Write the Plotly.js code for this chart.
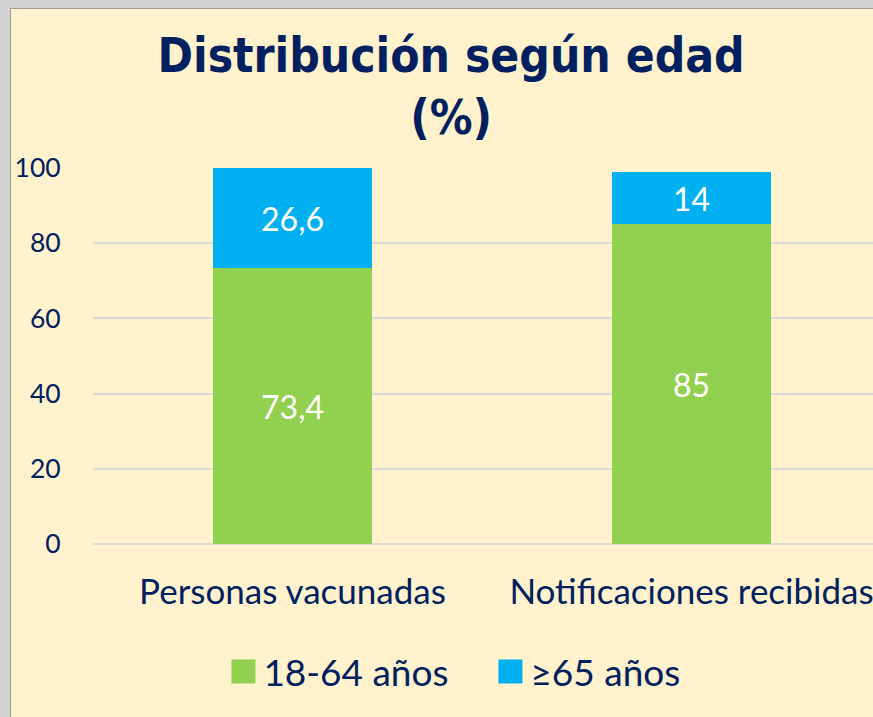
<!DOCTYPE html>
<html>
<head>
<meta charset="utf-8">
<script src="https://cdn.plot.ly/plotly-3.0.1.min.js"></script>
<style>
html,body{margin:0;padding:0;width:873px;height:717px;overflow:hidden;background:#D4D4D4;}
#frame{position:absolute;left:10px;top:8px;width:900px;height:720px;border-left:1px solid #9C9C9C;border-top:1px solid #9C9C9C;background:#FFF2CC;overflow:hidden;}
#chart{position:absolute;left:0;top:0;}
</style>
</head>
<body>
<div id="frame"><div id="chart"></div></div>
<script>
const categories = ["Personas vacunadas", "Notificaciones recibidas"];
const series1Name = "18-64 años";
const series1 = [73.4, 85];
const series2Name = "≥65 años";
const series2 = [26.6, 14];
const yTicks = [0, 20, 40, 60, 80, 100];

const fmt = v => String(v).replace('.', ',');
const txtColor = '#002060';
const bodyFont = 'Lato, "Open Sans", sans-serif';

const traces = [
  {type:'bar', name:series1Name, x:categories, y:series1, text:series1.map(fmt),
   marker:{color:'#92D050'}, textposition:'inside', insidetextanchor:'middle',
   textfont:{color:'#FFFFFF', size:32, family:bodyFont}, constraintext:'none',
   hoverinfo:'none'},
  {type:'bar', name:series2Name, x:categories, y:series2, text:series2.map(fmt),
   marker:{color:'#00B0F0'}, textposition:'inside', insidetextanchor:'middle',
   textfont:{color:'#FFFFFF', size:32, family:bodyFont}, constraintext:'none',
   hoverinfo:'none'}
];

const layout = {
  width:900, height:709,
  margin:{l:82, r:20, t:159, b:174},
  paper_bgcolor:'#FFF2CC', plot_bgcolor:'#FFF2CC',
  barmode:'stack', bargap:0.6,
  font:{family:bodyFont, color:txtColor},
  title:{text:'<b>Distribución según edad<br>(%)</b>', xref:'container', x:0.489, xanchor:'center',
         yref:'container', y:0.911, yanchor:'top',
         font:{family:'"DejaVu Sans Condensed", "DejaVu Sans", sans-serif', size:47.5, color:txtColor}},
  xaxis:{type:'category', showgrid:false, zeroline:false, showline:false,
         ticks:'outside', ticklen:17, tickcolor:'rgba(0,0,0,0)',
         tickfont:{size:35, color:txtColor}},
  yaxis:{range:[0,100], tickvals:yTicks, showgrid:true, gridcolor:'#D9D9D9', gridwidth:2,
         zeroline:true, zerolinecolor:'#D9D9D9', zerolinewidth:2, showline:false,
         ticks:'outside', ticklen:26, tickcolor:'rgba(0,0,0,0)',
         tickfont:{size:26.5, color:txtColor}},
  showlegend:true,
  legend:{orientation:'h', x:0.498, xanchor:'center', y:-0.34, yanchor:'middle',
          font:{size:37, color:txtColor}, bgcolor:'rgba(0,0,0,0)', itemwidth:30,
          entrywidth:222, traceorder:'normal'}
};

Plotly.newPlot('chart', traces, layout, {displayModeBar:false, staticPlot:true}).then(gd => {
  gd.querySelectorAll('.legend .legendpoints path').forEach(p => {
    const t = p.getAttribute('transform') || '';
    p.setAttribute('transform', t + ' scale(2)');
  });
});
</script>
</body>
</html>
